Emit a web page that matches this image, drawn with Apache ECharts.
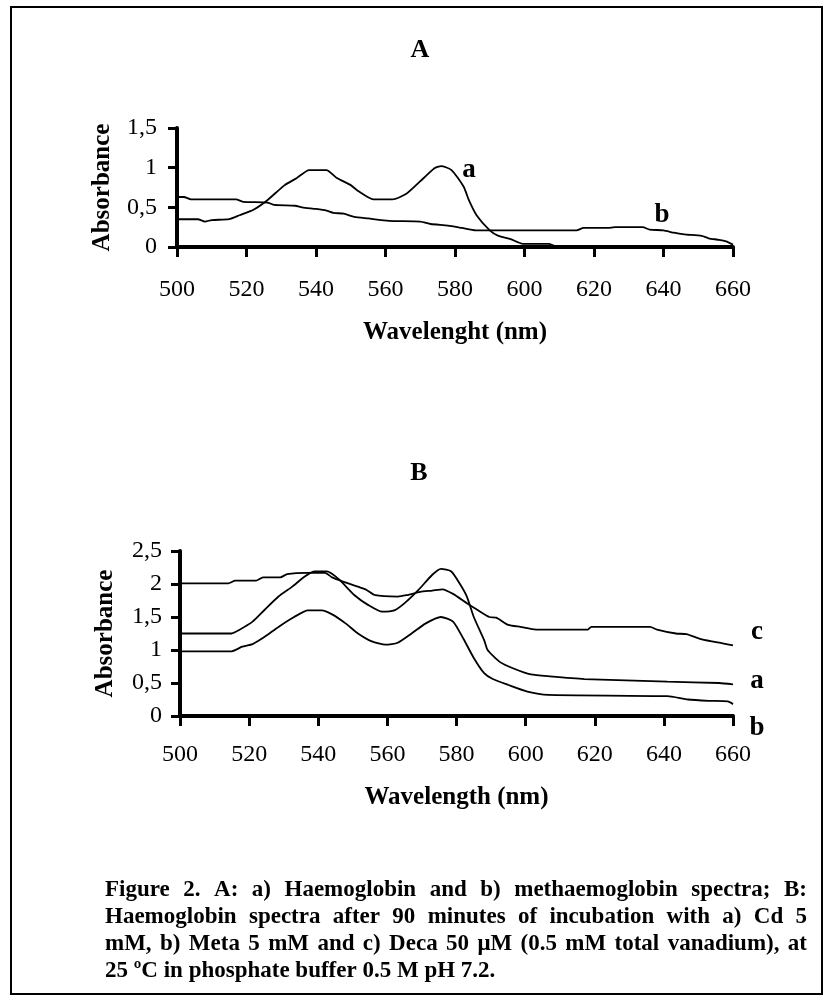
<!DOCTYPE html>
<html>
<head>
<meta charset="utf-8">
<title>Figure 2</title>
<script src="https://cdn.jsdelivr.net/npm/echarts@6/dist/echarts.min.js"></script>
<style>
  html, body { margin: 0; padding: 0; background: #fff; }
  #chart { width: 829px; height: 1002px; }
</style>
</head>
<body>
<div id="chart"></div>
<script>
// wavelength ticks
const wlTicks = [500, 520, 540, 560, 580, 600, 620, 640, 660];

// panel A: a) haemoglobin
const hbWl  = [500, 506, 508, 510, 515, 518, 522, 526, 531, 534.5, 538, 543, 546, 550, 552, 556.5, 562, 566, 571, 574, 576, 579, 582.5, 584, 586.2, 590, 592.5, 596, 599.5, 607, 609, 655];
const hbAbs = [0.35, 0.35, 0.32, 0.34, 0.35, 0.40, 0.47, 0.59, 0.78, 0.87, 0.97, 0.97, 0.87, 0.78, 0.71, 0.60, 0.60, 0.67, 0.87, 0.99, 1.02, 0.97, 0.76, 0.59, 0.40, 0.21, 0.14, 0.10, 0.04, 0.04, 0.01, 0.01];

// panel A: b) methaemoglobin
const metHbWl  = [500, 502, 504, 517, 519, 526, 528, 534, 536, 540, 543, 545, 548, 551, 555, 561, 570, 573, 578, 582, 586, 615, 617, 624, 626, 634, 636, 640, 643, 646, 651, 653, 656, 658, 660];
const metHbAbs = [0.63, 0.63, 0.60, 0.60, 0.57, 0.56, 0.53, 0.52, 0.50, 0.48, 0.46, 0.43, 0.42, 0.38, 0.36, 0.33, 0.32, 0.29, 0.27, 0.24, 0.21, 0.21, 0.24, 0.24, 0.25, 0.25, 0.22, 0.21, 0.18, 0.16, 0.14, 0.11, 0.09, 0.07, 0.03];

// panel B: a) Cd 5 mM
const cdWl  = [500, 515, 517, 521, 524.5, 528.5, 532.5, 536, 539, 542.5, 546, 550.5, 554.5, 558.5, 562, 565, 569, 573, 575.5, 578.5, 581, 583, 585, 588, 589, 592.5, 596.5, 601.5, 607, 617, 641, 656, 660];
const cdAbs = [1.25, 1.25, 1.30, 1.43, 1.61, 1.81, 1.96, 2.11, 2.19, 2.19, 2.07, 1.83, 1.68, 1.58, 1.60, 1.71, 1.91, 2.14, 2.23, 2.19, 2.00, 1.81, 1.50, 1.15, 1.00, 0.82, 0.72, 0.63, 0.60, 0.56, 0.52, 0.50, 0.48];

// panel B: b) Meta 5 mM
const metaWl  = [500, 515, 518, 521, 524.5, 528.5, 533, 537, 541, 544, 548, 551.5, 555.5, 559.5, 563, 567, 571, 575.5, 579, 582, 585, 588, 590.5, 595, 600.5, 606.5, 641, 647, 653, 658.5, 660];
const metaAbs = [0.98, 0.98, 1.05, 1.09, 1.20, 1.35, 1.50, 1.60, 1.60, 1.54, 1.40, 1.25, 1.13, 1.08, 1.11, 1.25, 1.40, 1.50, 1.43, 1.17, 0.88, 0.65, 0.56, 0.47, 0.37, 0.32, 0.30, 0.25, 0.23, 0.22, 0.18];

// panel B: c) Deca 50 uM
const decaWl  = [500, 514, 516, 522, 524, 529, 531, 537, 542, 544, 547, 551.5, 554, 556.5, 563, 565.5, 569.5, 573, 576, 579, 583, 586, 589.5, 591.5, 595, 598.5, 603, 618, 619, 636, 638, 643.5, 646.5, 651, 657, 660];
const decaAbs = [2.01, 2.01, 2.05, 2.05, 2.10, 2.10, 2.15, 2.17, 2.17, 2.10, 2.04, 1.96, 1.91, 1.83, 1.81, 1.83, 1.88, 1.90, 1.92, 1.85, 1.71, 1.61, 1.50, 1.49, 1.38, 1.35, 1.31, 1.31, 1.35, 1.35, 1.31, 1.25, 1.24, 1.16, 1.10, 1.07];

const captionLines = [
  'Figure 2. A: a) Haemoglobin and b) methaemoglobin spectra; B:',
  'Haemoglobin spectra after 90 minutes of incubation with a) Cd 5',
  'mM, b) Meta 5 mM and c) Deca 50 \u03bcM (0.5 mM total vanadium), at',
  '25 \u00baC in phosphate buffer 0.5 M pH 7.2.'
];

const serif = '"Liberation Serif", "Times New Roman", serif';

function pairs(xs, ys) {
  return xs.map((x, i) => [x, ys[i]]);
}

function xAxisFor(gridIndex, name, labelMargin, nameGap) {
  return {
    type: 'value', gridIndex: gridIndex,
    min: wlTicks[0], max: wlTicks[wlTicks.length - 1], interval: 20,
    name: name, nameLocation: 'middle', nameGap: nameGap,
    nameTextStyle: { fontFamily: serif, fontWeight: 'bold', fontSize: 25, color: '#000' },
    axisLine: { lineStyle: { color: '#000', width: 4 } },
    axisTick: { length: 10, lineStyle: { color: '#000', width: 3 } },
    axisLabel: { fontFamily: serif, fontSize: 24, color: '#000', margin: labelMargin },
    splitLine: { show: false }
  };
}

function yAxisFor(gridIndex, max, labelMargin, nameGap) {
  return {
    type: 'value', gridIndex: gridIndex,
    min: 0, max: max, interval: 0.5,
    name: 'Absorbance', nameLocation: 'middle', nameGap: nameGap,
    nameTextStyle: { fontFamily: serif, fontWeight: 'bold', fontSize: 25, color: '#000' },
    axisLine: { show: true, lineStyle: { color: '#000', width: 4 } },
    axisTick: { show: true, length: 9, lineStyle: { color: '#000', width: 3 } },
    axisLabel: {
      fontFamily: serif, fontSize: 24, color: '#000', margin: labelMargin,
      formatter: v => String(v).replace('.', ',')
    },
    splitLine: { show: false }
  };
}

function line(xi, yi, data) {
  return {
    type: 'line', xAxisIndex: xi, yAxisIndex: yi,
    data: data, symbol: 'none', smooth: 0.2,
    lineStyle: { color: '#000', width: 1.8 },
    silent: true
  };
}

function label(text, x, y, size) {
  return {
    type: 'text', x: x, y: y,
    style: {
      text: text, fill: '#000', align: 'center', verticalAlign: 'middle',
      font: 'bold ' + size + 'px ' + serif
    }
  };
}

// caption, justified like the printed figure
const capFont = 'bold 23px ' + serif;
const capLeft = 105, capRight = 807;
const capY = [890, 917, 944, 971];
const measure = document.createElement('canvas').getContext('2d');
measure.font = capFont;

function captionLine(text, y, justify) {
  const words = text.split(' ');
  const widths = words.map(w => measure.measureText(w).width);
  const total = widths.reduce((a, b) => a + b, 0);
  const gap = justify ? (capRight - capLeft - total) / (words.length - 1) : measure.measureText(' ').width;
  let x = capLeft;
  return words.map((w, i) => {
    const el = {
      type: 'text', x: x, y: y,
      style: { text: w, fill: '#000', font: capFont, align: 'left', verticalAlign: 'middle' }
    };
    x += widths[i] + gap;
    return el;
  });
}

let captionEls = [];
captionLines.forEach((t, i) => {
  captionEls = captionEls.concat(captionLine(t, capY[i], i < captionLines.length - 1));
});

const chart = echarts.init(document.getElementById('chart'), null, { renderer: 'canvas' });

chart.setOption({
  backgroundColor: '#fff',
  animation: false,
  grid: [
    { left: 177, top: 128, width: 556, height: 119 },
    { left: 180, top: 551, width: 553, height: 165 }
  ],
  xAxis: [
    xAxisFor(0, 'Wavelenght (nm)', 31, 73),
    xAxisFor(1, 'Wavelength (nm)', 27, 69)
  ],
  yAxis: [
    yAxisFor(0, 1.5, 20, 62),
    yAxisFor(1, 2.5, 18, 62)
  ],
  series: [
    line(0, 0, pairs(hbWl, hbAbs)),
    line(0, 0, pairs(metHbWl, metHbAbs)),
    line(1, 1, pairs(cdWl, cdAbs)),
    line(1, 1, pairs(metaWl, metaAbs)),
    line(1, 1, pairs(decaWl, decaAbs))
  ],
  graphic: [
    {
      type: 'rect', shape: { x: 11, y: 7, width: 811, height: 987 },
      style: { fill: 'none', stroke: '#000', lineWidth: 2 }
    },
    label('A', 420, 50, 26),
    label('B', 419, 473, 26),
    label('a', 469, 170, 27),
    label('b', 662, 215, 27),
    label('c', 757, 632, 27),
    label('a', 757, 681, 27),
    label('b', 757, 728, 27)
  ].concat(captionEls)
});
</script>
</body>
</html>
